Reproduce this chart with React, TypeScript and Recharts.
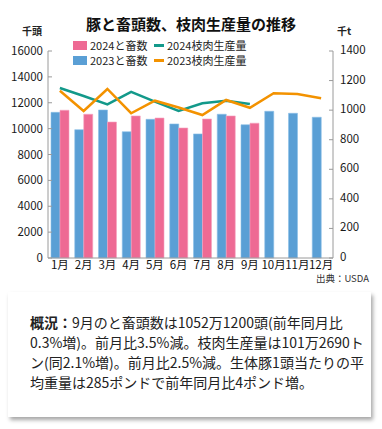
import React from "react";
import { ComposedChart, Bar, Line, XAxis, YAxis, Legend } from "recharts";

const months = ["1月", "2月", "3月", "4月", "5月", "6月", "7月", "8月", "9月", "10月", "11月", "12月"];
const slaughter2023 = [11260, 9920, 11440, 9760, 10720, 10360, 9590, 11110, 10300, 11340, 11185, 10880];
const slaughter2024 = [11420, 11110, 10510, 10980, 10820, 10050, 10745, 10980, 10420, null, null, null];
const production2024 = [1150, 1096, 1039, 1123, 1058, 994, 1046, 1064, 1041, null, null, null];
const production2023 = [1131, 994, 1143, 979, 1064, 1018, 967, 1069, 1016, 1114, 1109, 1080];
const leftTicks = [0, 2000, 4000, 6000, 8000, 10000, 12000, 14000, 16000];
const rightTicks = [0, 200, 400, 600, 800, 1000, 1200, 1400];

const FONT = "'Noto Sans CJK JP', 'Noto Sans', sans-serif";
const C_PINK = "#ee6a94";
const C_BLUE = "#5a9fd5";
const C_TEAL = "#13998a";
const C_ORANGE = "#f39200";
const AXIS = "#9a9a9a";

const data = months.map((m, i) => ({
  month: m,
  s2023: slaughter2023[i],
  s2024: slaughter2024[i],
  p2024: production2024[i],
  p2023: production2023[i],
}));

const legendRows = [
  [
    { name: "2024と畜数", color: C_PINK, type: "rect" },
    { name: "2024枝肉生産量", color: C_TEAL, type: "line" },
  ],
  [
    { name: "2023と畜数", color: C_BLUE, type: "rect" },
    { name: "2023枝肉生産量", color: C_ORANGE, type: "line" },
  ],
];

const LeftTick = (props: any) => {
  const { x, y, payload } = props;
  return (
    <g>
      <line x1={x + 5} x2={x + 9} y1={y} y2={y} stroke={AXIS} />
      <text x={x} y={y} dy={4} textAnchor="end" fontSize={11.5} fill="#1a1a1a" fontFamily={FONT}>
        {payload.value}
      </text>
    </g>
  );
};

const RightTick = (props: any) => {
  const { x, y, payload } = props;
  return (
    <g>
      <line x1={x - 7} x2={x - 11} y1={y} y2={y} stroke={AXIS} />
      <text x={x} y={y} dy={3} textAnchor="start" fontSize={11.5} fill="#1a1a1a" fontFamily={FONT}>
        {payload.value}
      </text>
    </g>
  );
};

const LegendContent = () => (
  <div style={{ fontFamily: FONT, fontSize: 11, color: "#222", lineHeight: "15px" }}>
    {legendRows.map((row, ri) => (
      <div key={ri} style={{ display: "flex", alignItems: "center", height: 15 }}>
        {row.map((it, ci) => (
          <div key={ci} style={{ display: "flex", alignItems: "center", width: ci === 0 ? 81 : 110 }}>
            {it.type === "rect" ? (
              <span style={{ display: "inline-block", width: 14, height: 9, background: it.color, marginRight: 3 }} />
            ) : (
              <span style={{ display: "inline-block", width: 10, height: 3, background: it.color, marginRight: 3 }} />
            )}
            <span style={{ whiteSpace: "nowrap" }}>{it.name}</span>
          </div>
        ))}
      </div>
    ))}
  </div>
);

const noteLines = [
  "9月のと畜頭数は1052万1200頭(前年同月比",
  "0.3%増)。前月比3.5%減。枝肉生産量は101万2690ト",
  "ン(同2.1%増)。前月比2.5%減。生体豚1頭当たりの平",
  "均重量は285ポンドで前年同月比4ポンド増。",
];

export default function App() {
  return (
    <div style={{ position: "absolute", left: 0, top: 0, width: 382, height: 429, background: "#fff", fontFamily: FONT }}>
      <div
        style={{
          position: "absolute",
          left: 0,
          width: 382,
          top: 13,
          textAlign: "center",
          fontSize: 15,
          fontWeight: 700,
          color: "#111",
          lineHeight: "22px",
        }}
      >
        豚と畜頭数、枝肉生産量の推移
      </div>
      <div style={{ position: "absolute", left: 22, top: 23, fontSize: 10, fontWeight: 700, color: "#222" }}>千頭</div>
      <div style={{ position: "absolute", left: 337, top: 23, fontSize: 10, fontWeight: 700, color: "#222" }}>千t</div>
      <div style={{ position: "absolute", top: 0, left: 0 }}>
        <ComposedChart
          width={382}
          height={290}
          data={data}
          margin={{ top: 51, right: 0, bottom: 0, left: 0 }}
          barGap={0}
          barSize={9}
        >
          <XAxis
            dataKey="month"
            interval={0}
            height={32}
            tickLine={false}
            tickSize={0}
            tickMargin={3}
            axisLine={{ stroke: AXIS }}
            tick={{ fontSize: 11.5, fill: "#111", fontFamily: FONT }}
          />
          <YAxis
            yAxisId="left"
            orientation="left"
            width={48}
            domain={[0, 16000]}
            ticks={leftTicks}
            interval={0}
            tickLine={false}
            tickSize={5}
            tickMargin={0}
            axisLine={{ stroke: AXIS }}
            tick={<LeftTick />}
          />
          <YAxis
            yAxisId="right"
            orientation="right"
            width={49}
            domain={[0, 1400]}
            ticks={rightTicks}
            interval={0}
            tickLine={false}
            tickSize={7}
            tickMargin={0}
            axisLine={{ stroke: AXIS }}
            tick={<RightTick />}
          />
          <Legend
            layout="horizontal"
            verticalAlign="middle"
            wrapperStyle={{ position: "absolute", top: 38, left: 73, width: 220 }}
            content={<LegendContent />}
          />
          <Bar yAxisId="left" dataKey="s2023" name="2023と畜数" fill={C_BLUE} stroke="#8cc0e8" strokeWidth={0.6} isAnimationActive={false} />
          <Bar yAxisId="left" dataKey="s2024" name="2024と畜数" fill={C_PINK} stroke="#f6a3c0" strokeWidth={0.6} isAnimationActive={false} />
          <Line yAxisId="right" dataKey="p2024" name="2024枝肉生産量" stroke={C_TEAL} strokeWidth={2.5} dot={false} type="linear" isAnimationActive={false} />
          <Line yAxisId="right" dataKey="p2023" name="2023枝肉生産量" stroke={C_ORANGE} strokeWidth={2.5} dot={false} type="linear" isAnimationActive={false} />
        </ComposedChart>
      </div>
      <div style={{ position: "absolute", right: 13, top: 271, fontSize: 9.5, color: "#333" }}>出典：USDA</div>
      <div
        style={{
          position: "absolute",
          left: 8,
          top: 292,
          width: 363,
          height: 125,
          background: "#fff",
          boxShadow: "2px 3px 4px rgba(0,0,0,0.35)",
          boxSizing: "border-box",
          paddingLeft: 22,
          paddingTop: 20,
          fontSize: 14,
          lineHeight: "20px",
          color: "#222",
          whiteSpace: "nowrap",
        }}
      >
        {noteLines.map((l, i) => (
          <div key={i}>
            {i === 0 && <span style={{ fontWeight: 700 }}>概況：</span>}
            {l}
          </div>
        ))}
      </div>
    </div>
  );
}
